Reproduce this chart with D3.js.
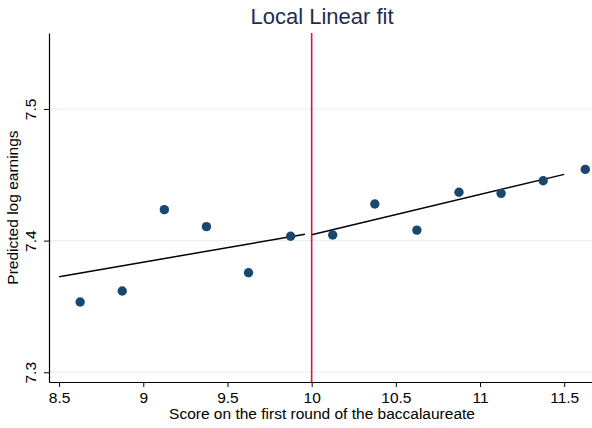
<!DOCTYPE html>
<html>
<head>
<meta charset="utf-8">
<script src="https://cdn.jsdelivr.net/npm/d3@7"></script>
<style>
  html, body { margin: 0; padding: 0; background: #fff; }
  svg { display: block; font-family: "Liberation Sans", Arial, sans-serif; }
</style>
</head>
<body>
<div class="svg-container"></div>
<script>
// bin midpoints and mean predicted log earnings
const binX = [8.625, 8.875, 9.125, 9.375, 9.625, 9.875, 10.125, 10.375, 10.625, 10.875, 11.125, 11.375, 11.625];
const binY = [7.3534, 7.3617, 7.4235, 7.4106, 7.3756, 7.4033, 7.4043, 7.4278, 7.408, 7.4367, 7.4359, 7.4455, 7.4541];

// local linear fit, each side of the cutoff
const fitLeftX = [8.5, 9.96];
const fitLeftY = [7.3726, 7.4048];
const fitRightX = [10, 11.5];
const fitRightY = [7.4045, 7.4503];

const cutoff = 10;
const xTicks = [8.5, 9, 9.5, 10, 10.5, 11, 11.5];
const yTicks = [7.3, 7.4, 7.5];

const width = 592, height = 428;
const plotLeft = 49, plotRight = 592, plotTop = 33, plotBottom = 382;

const svg = d3.select("div.svg-container").append("svg")
    .attr("width", width)
    .attr("height", height);

const x = d3.scaleLinear().domain([8.44, 11.665]).range([plotLeft, plotRight]);
const y = d3.scaleLinear().domain([7.2926, 7.5577]).range([plotBottom, plotTop]);

// gridlines
svg.append("g")
    .selectAll("line")
    .data(yTicks)
    .join("line")
    .attr("x1", plotLeft).attr("x2", plotRight)
    .attr("y1", d => y(d)).attr("y2", d => y(d))
    .attr("stroke", "#e3eef0")
    .attr("stroke-width", 1);

// cutoff line
svg.append("line")
    .attr("x1", x(cutoff)).attr("x2", x(cutoff))
    .attr("y1", plotTop).attr("y2", plotBottom)
    .attr("stroke", "#dc143c")
    .attr("stroke-width", 1.6);

// fit lines
const line = d3.line().x(d => x(d[0])).y(d => y(d[1]));
[[fitLeftX, fitLeftY], [fitRightX, fitRightY]].forEach(([xs, ys]) => {
    svg.append("path")
        .datum(d3.zip(xs, ys))
        .attr("fill", "none")
        .attr("stroke", "#000")
        .attr("stroke-width", 1.5)
        .attr("d", line);
});

// scatter
svg.append("g")
    .selectAll("circle")
    .data(d3.zip(binX, binY))
    .join("circle")
    .attr("cx", d => x(d[0]))
    .attr("cy", d => y(d[1]))
    .attr("r", 4.7)
    .attr("fill", "#1a476f");

// axes
const xAxisG = svg.append("g")
    .attr("transform", `translate(0, ${plotBottom})`)
    .call(d3.axisBottom(x).tickValues(xTicks).tickFormat(d3.format("")).tickSize(5).tickSizeOuter(0).tickPadding(5));

const yAxisG = svg.append("g")
    .attr("transform", `translate(${plotLeft}, 0)`)
    .call(d3.axisLeft(y).tickValues(yTicks).tickFormat(d3.format(".1f")).tickSize(5).tickSizeOuter(0));

[xAxisG, yAxisG].forEach(g => {
    g.select(".domain").attr("stroke", "#000").attr("stroke-width", 1.2);
    g.selectAll(".tick line").attr("stroke", "#000").attr("stroke-width", 1);
    g.selectAll("text")
        .attr("fill", "#000")
        .style("font-size", "15.5px")
        .style("font-family", "'Liberation Sans', Arial, sans-serif");
});

yAxisG.selectAll("text")
    .attr("x", null)
    .attr("dy", null)
    .attr("text-anchor", "middle")
    .attr("transform", "translate(-13,0) rotate(-90)");

// titles
svg.append("text")
    .attr("x", 322).attr("y", 24)
    .attr("text-anchor", "middle")
    .attr("fill", "#1e2d53")
    .style("font-size", "22px")
    .text("Local Linear fit");

svg.append("text")
    .attr("x", 322).attr("y", 419)
    .attr("text-anchor", "middle")
    .attr("fill", "#000")
    .style("font-size", "15.5px")
    .text("Score on the first round of the baccalaureate");

svg.append("text")
    .attr("transform", `translate(18, ${(plotTop + plotBottom) / 2}) rotate(-90)`)
    .attr("text-anchor", "middle")
    .attr("fill", "#000")
    .style("font-size", "15.5px")
    .text("Predicted log earnings");
</script>
</body>
</html>
